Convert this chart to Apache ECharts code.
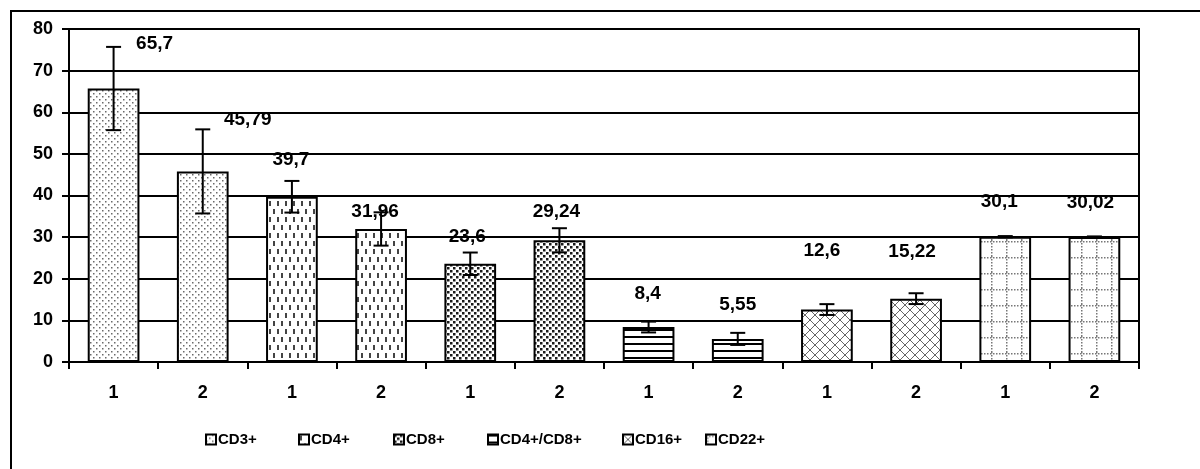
<!DOCTYPE html>
<html>
<head>
<meta charset="utf-8">
<script src="https://cdn.jsdelivr.net/npm/echarts@6/dist/echarts.min.js"></script>
<style>
html,body{margin:0;padding:0;background:#fff;}
#chart{width:1200px;height:469px;}
</style>
</head>
<body>
<div id="chart"></div>
<script>
// ---- data ----
var categories = ['1','2','1','2','1','2','1','2','1','2','1','2'];
var groups = ['CD3+','CD4+','CD8+','CD4+/CD8+','CD16+','CD22+'];
var values = [65.7, 45.79, 39.7, 31.96, 23.6, 29.24, 8.4, 5.55, 12.6, 15.22, 30.1, 30.02];
var errors = [10, 10.1, 3.8, 4, 2.7, 2.9, 1.3, 1.45, 1.3, 1.3, 0.15, 0.15];
var yTicks = {min: 0, max: 80, interval: 10};

// ---- styling (label offsets as moved in the original, legend positions) ----
var labelOffsets = [[41,-30],[45,-37],[-1,-22],[-6,-3],[-3,-12],[-3,-14],[-1,-19],[0,-20],[-5,-44],[-4,-32],[-6,-20],[-4,-20]];
var legendLefts = [205, 298, 393, 487, 622, 705];

function makeCanvas(w,h,draw){
  var c=document.createElement('canvas');c.width=w;c.height=h;
  var ctx=c.getContext('2d');ctx.fillStyle='#fff';ctx.fillRect(0,0,w,h);draw(ctx);return c;
}
var patterns = [
  makeCanvas(6,6,function(ctx){ctx.fillStyle='#6a6a6a';ctx.fillRect(0,0,1.5,1.5);ctx.fillRect(3,3,1.5,1.5);}),
  makeCanvas(8,16,function(ctx){ctx.fillStyle='#444';ctx.fillRect(1,1,2,5);ctx.fillRect(5,9,2,5);}),
  makeCanvas(6,6,function(ctx){ctx.fillStyle='#1a1a1a';ctx.fillRect(0,0,2.5,2.5);ctx.fillRect(3,3,2.5,2.5);}),
  makeCanvas(4,7,function(ctx){ctx.fillStyle='#000';ctx.fillRect(0,0,4,2);}),
  makeCanvas(10,10,function(ctx){ctx.strokeStyle='#666';ctx.lineWidth=1;ctx.beginPath();ctx.moveTo(0,0);ctx.lineTo(10,10);ctx.moveTo(10,0);ctx.lineTo(0,10);ctx.stroke();}),
  makeCanvas(15,16,function(ctx){ctx.fillStyle='#777';for(var i=0;i<16;i+=3){ctx.fillRect(1,i,1.5,1.5);}for(var j=0;j<15;j+=3){ctx.fillRect(j,1,1.5,1.5);}})
];

function fmt(v){return String(v).replace('.',',');}

var series = groups.map(function(g,gi){
  var d = categories.map(function(c,i){
    if(Math.floor(i/2)!==gi) return '-';
    return {value: values[i], label:{show:true, position:'top', offset: labelOffsets[i], formatter: function(p){return fmt(p.value);}}};
  });
  return {
    name: g, type:'bar', data: d, barWidth:'58%', barGap:'-100%',
    itemStyle:{color:{image:patterns[gi], repeat:'repeat'}, borderColor:'#000', borderWidth:2},
    label:{color:'#000', fontFamily:'Liberation Sans, Arial', fontWeight:'bold', fontSize:19},
    z:3
  };
});

series.push({
  type:'custom', name:'err', z:5, silent:true,
  data: values.map(function(v,i){return [i, v-errors[i], v+errors[i]];}),
  renderItem: function(params, api){
    var x=api.value(0);
    var lo=api.coord([x, api.value(1)]);
    var hi=api.coord([x, api.value(2)]);
    var hw=7.5;
    var st={stroke:'#000', lineWidth:2};
    return {type:'group', children:[
      {type:'line', shape:{x1:lo[0],y1:lo[1],x2:hi[0],y2:hi[1]}, style:st},
      {type:'line', shape:{x1:lo[0]-hw,y1:lo[1],x2:lo[0]+hw,y2:lo[1]}, style:st},
      {type:'line', shape:{x1:hi[0]-hw,y1:hi[1],x2:hi[0]+hw,y2:hi[1]}, style:st}
    ]};
  }
});

var legends = groups.map(function(g,gi){
  return {
    data:[g], left:legendLefts[gi], top:432, itemWidth:10, itemHeight:10, icon:'rect', padding:0,
    textStyle:{color:'#000', fontFamily:'Liberation Sans, Arial', fontWeight:'bold', fontSize:15, padding:[0,0,0,-3]}
  };
});

var chart = echarts.init(document.getElementById('chart'), null, {renderer:'canvas'});
chart.setOption({
  animation:false,
  backgroundColor:'#fff',
  graphic:[{type:'rect', shape:{x:11,y:11,width:1250,height:520}, style:{fill:'none', stroke:'#000', lineWidth:2}, z:-1}],
  grid:{left:69, right:61, top:29, bottom:107, show:true, borderColor:'#000', borderWidth:2, backgroundColor:'transparent'},
  legend: legends,
  xAxis:{
    type:'category', data:categories,
    axisLine:{lineStyle:{color:'#000', width:2}},
    axisTick:{show:true, interval:0, length:7, lineStyle:{color:'#000', width:2}},
    axisLabel:{interval:0, color:'#000', fontFamily:'Liberation Sans, Arial', fontWeight:'bold', fontSize:18, margin:22}
  },
  yAxis:{
    type:'value', min:yTicks.min, max:yTicks.max, interval:yTicks.interval,
    axisLine:{show:true, lineStyle:{color:'#000', width:2}},
    axisTick:{show:true, length:7, lineStyle:{color:'#000', width:2}},
    axisLabel:{color:'#000', fontFamily:'Liberation Sans, Arial', fontWeight:'bold', fontSize:18, margin:16},
    splitLine:{show:true, lineStyle:{color:'#000', width:2}}
  },
  series: series
});
</script>
</body>
</html>
